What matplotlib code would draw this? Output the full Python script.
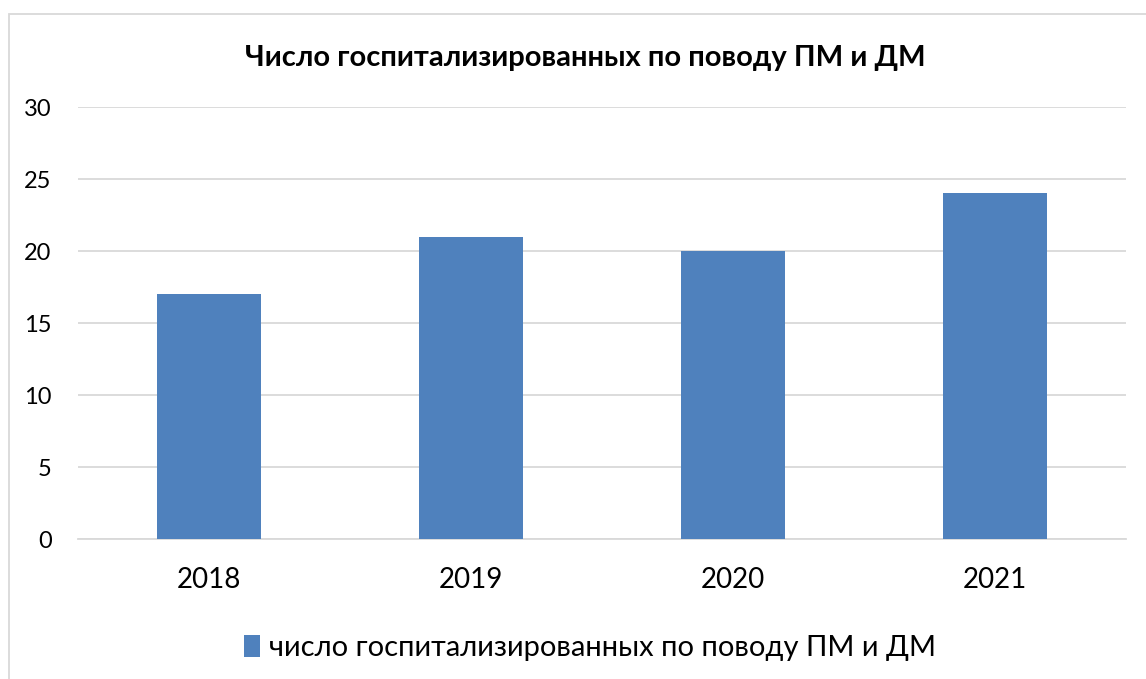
# plot.py
# bar chart: hospitalised counts per year

import matplotlib
matplotlib.use("Agg")
from matplotlib import pyplot as plt
from matplotlib.patches import Rectangle, Patch

years = ["2018", "2019", "2020", "2021"]
counts = [17, 21, 20, 24]
title = "Число госпитализированных по поводу ПМ и ДМ"
series_name = "число госпитализированных по поводу ПМ и ДМ"
y_ticks = [0, 5, 10, 15, 20, 25, 30]

W, H = 1146, 679
plt.rcParams["font.family"] = ["Lato", "DejaVu Sans"]

fig = plt.figure(figsize=(W / 100, H / 100), dpi=100)
ax = fig.add_axes([78 / W, 1 - 539 / H, (1126 - 78) / W, (539 - 107) / H])

bar_color = "#4F81BD"
x = range(len(years))
ax.bar(x, counts, width=0.4, color=bar_color, zorder=3)

ax.set_xlim(-0.5, len(years) - 0.5)
ax.set_ylim(0, 30)
ax.set_yticks(y_ticks)
ax.set_xticks(list(x))
ax.set_xticklabels(years)
ax.yaxis.grid(True, color="#D9D9D9", linewidth=1.3, zorder=0)
ax.set_axisbelow(True)
for side in ["top", "right", "left"]:
    ax.spines[side].set_visible(False)
ax.spines["bottom"].set_color("#D9D9D9")
ax.spines["bottom"].set_linewidth(1.3)
ax.tick_params(axis="y", length=0, pad=19, labelsize=17)
ax.tick_params(axis="x", length=0, pad=20, labelsize=20)

fig.text(585 / W, 1 - 58 / H, title, ha="center", va="center",
         fontsize=21, fontweight="bold")

# legend under the axis
handle = Patch(facecolor=bar_color, edgecolor="none")
fig.legend([handle], [series_name], loc="center",
           bbox_to_anchor=(590 / W, 1 - 648 / H), frameon=False,
           fontsize=21, handlelength=0.55, handleheight=0.75, handletextpad=0.3)

# chart border (runs past right and bottom edges)
fig.add_artist(Rectangle((8.5 / W, -0.1), 1.2, 1.1 - 14.5 / H,
                         transform=fig.transFigure, fill=False,
                         edgecolor="#D9D9D9", linewidth=1.3))

plt.savefig("out.png", dpi=100)
